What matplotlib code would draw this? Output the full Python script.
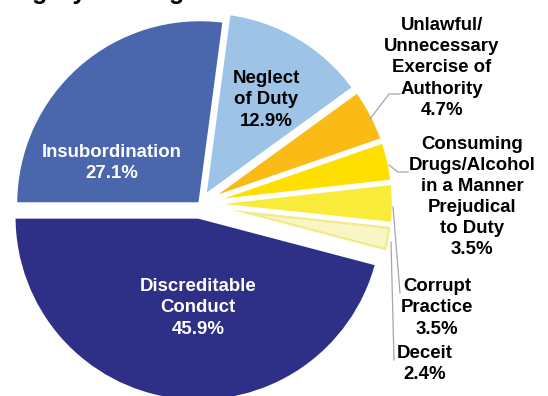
import matplotlib
matplotlib.use("Agg")
import matplotlib.pyplot as plt
from matplotlib.patches import Wedge

# allegation categories, clockwise from 9 o'clock
categories = [
    "Insubordination",
    "Neglect\nof Duty",
    "Unlawful/\nUnnecessary\nExercise of\nAuthority",
    "Consuming\nDrugs/Alcohol\nin a Manner\nPrejudical\nto Duty",
    "Corrupt\nPractice",
    "Deceit",
    "Discreditable\nConduct",
]
shares = [27.1, 12.9, 4.7, 3.5, 3.5, 2.4, 45.9]
colors = ["#4A67AE", "#9DC3E6", "#FBBB17", "#FFDF00", "#F8EB3A", "#FAF5C4", "#2D3086"]
title = "Category of Allegations"

W, H = 548, 396
plt.rcParams["font.family"] = ["Liberation Sans", "DejaVu Sans"]

fig = plt.figure(figsize=(W / 100, H / 100), dpi=100)
ax = fig.add_axes([0, 0, 1, 1])

def px(x, y):
    # image-style coords (y down) -> axes data coords
    return x, H - y

explode = [0, 9, 9, 9, 9, 9, 13]
wedges, _ = ax.pie(shares, colors=colors, startangle=180, counterclock=False,
                   center=px(200, 204), radius=184.5, explode=explode,
                   wedgeprops=dict(edgecolor="white", linewidth=2.5))

# Deceit slice has a soft yellow rim inside the white gap
dw = wedges[5]
rim = Wedge(dw.center, dw.r, dw.theta1, dw.theta2, facecolor="none",
            edgecolor="#F3EA8C", linewidth=5.8, zorder=dw.zorder + 0.1)
rim.set_clip_path(dw)
ax.add_patch(rim)
ax.add_patch(Wedge(dw.center, dw.r, dw.theta1, dw.theta2, facecolor="none",
                   edgecolor="white", linewidth=2.5, zorder=dw.zorder + 0.2))

ax.set_xlim(0, W)
ax.set_ylim(0, H)
ax.set_aspect("equal")
ax.axis("off")

label_pos = [(112, 163), (266, 100), (442, 68), (472, 197), (437, 308), (425, 364), (198, 308)]
label_col = ["white", "black", "black", "black", "black", "black", "white"]
for name, val, (lx, ly), c in zip(categories, shares, label_pos, label_col):
    ax.text(*px(lx, ly), f"{name}\n{val:.1f}%", ha="center", va="center",
            multialignment="center", color=c, fontsize=13.4, fontweight="bold",
            linespacing=1.31, zorder=5)

# leader lines for the outside labels
leaders = [
    [(370, 119), (389, 94), (400, 94)],
    [(389, 165), (398, 172), (408, 172)],
    [(393, 207), (400, 293)],
    [(391, 242), (394, 360)],
]
for pts in leaders:
    xs = [p[0] for p in pts]
    ys = [H - p[1] for p in pts]
    ax.plot(xs, ys, color="#A6A6A6", lw=0.9, zorder=4)

# chart title sits mostly above the top edge
fig.text(-21.8 / W, (H + 1) / H, title, fontsize=18, fontweight="bold",
         ha="left", va="baseline")

fig.savefig("out.png", dpi=100)
